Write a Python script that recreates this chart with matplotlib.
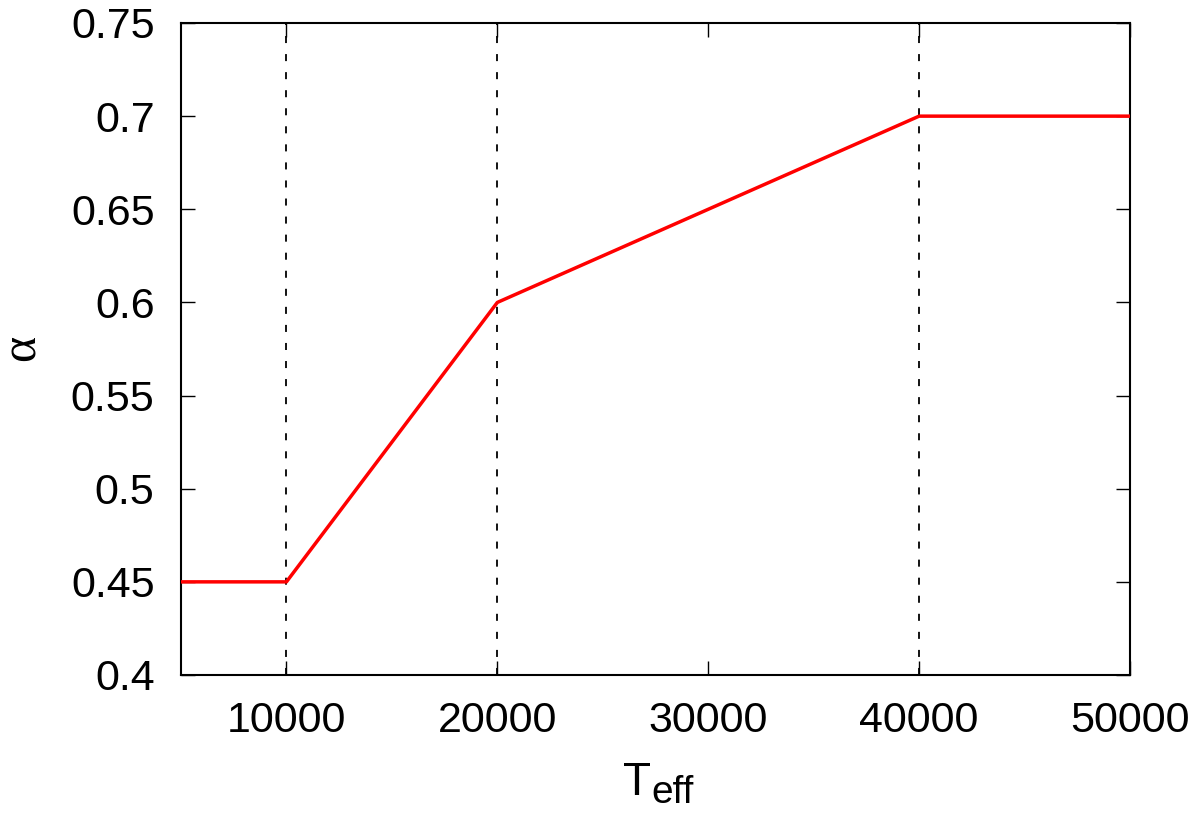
import matplotlib
matplotlib.use("Agg")
import matplotlib.pyplot as plt

teff = [5000, 10000, 20000, 40000, 50000]
alpha = [0.45, 0.45, 0.60, 0.70, 0.70]
vlines = [10000, 20000, 40000]
xticks = [10000, 20000, 30000, 40000, 50000]
yticks = [0.4, 0.45, 0.5, 0.55, 0.6, 0.65, 0.7, 0.75]
yticklabels = ["0.4", "0.45", "0.5", "0.55", "0.6", "0.65", "0.7", "0.75"]

plt.rcParams['font.family'] = ['Liberation Sans', 'DejaVu Sans']

fig = plt.figure(figsize=(12, 8.14), dpi=100)
ax = fig.add_axes([181/1200, 1-675/814, (1130-181)/1200, (675-23)/814])

for v in vlines:
    ax.axvline(v, color='black', lw=1.3, ls=(0, (3.9, 6.1)), zorder=1)
ax.plot(teff, alpha, color='#ff0000', lw=2.5, zorder=3)

ax.set_xlim(5000, 50000)
ax.set_ylim(0.4, 0.75)
ax.set_xticks(xticks)
ax.set_xticklabels([str(x) for x in xticks])
ax.set_yticks(yticks)
ax.set_yticklabels(yticklabels)
ax.tick_params(direction='in', length=10, width=1, top=True, right=True,
               labelsize=31, pad=19, colors='black')
for s in ax.spines.values():
    s.set_linewidth(1.5)

# x label: T with subscript "eff"
fig.text(623/1200, 1-795/814, 'T', fontsize=33, ha='left', va='baseline')
fig.text(651/1200, 1-803/814, 'eff', fontsize=28, ha='left', va='baseline')

fig.text(22/1200, 1-348/814, 'α', fontsize=36, rotation=90,
         family=['Liberation Serif', 'DejaVu Serif'], ha='center', va='center')

fig.savefig('out.png', dpi=100)
